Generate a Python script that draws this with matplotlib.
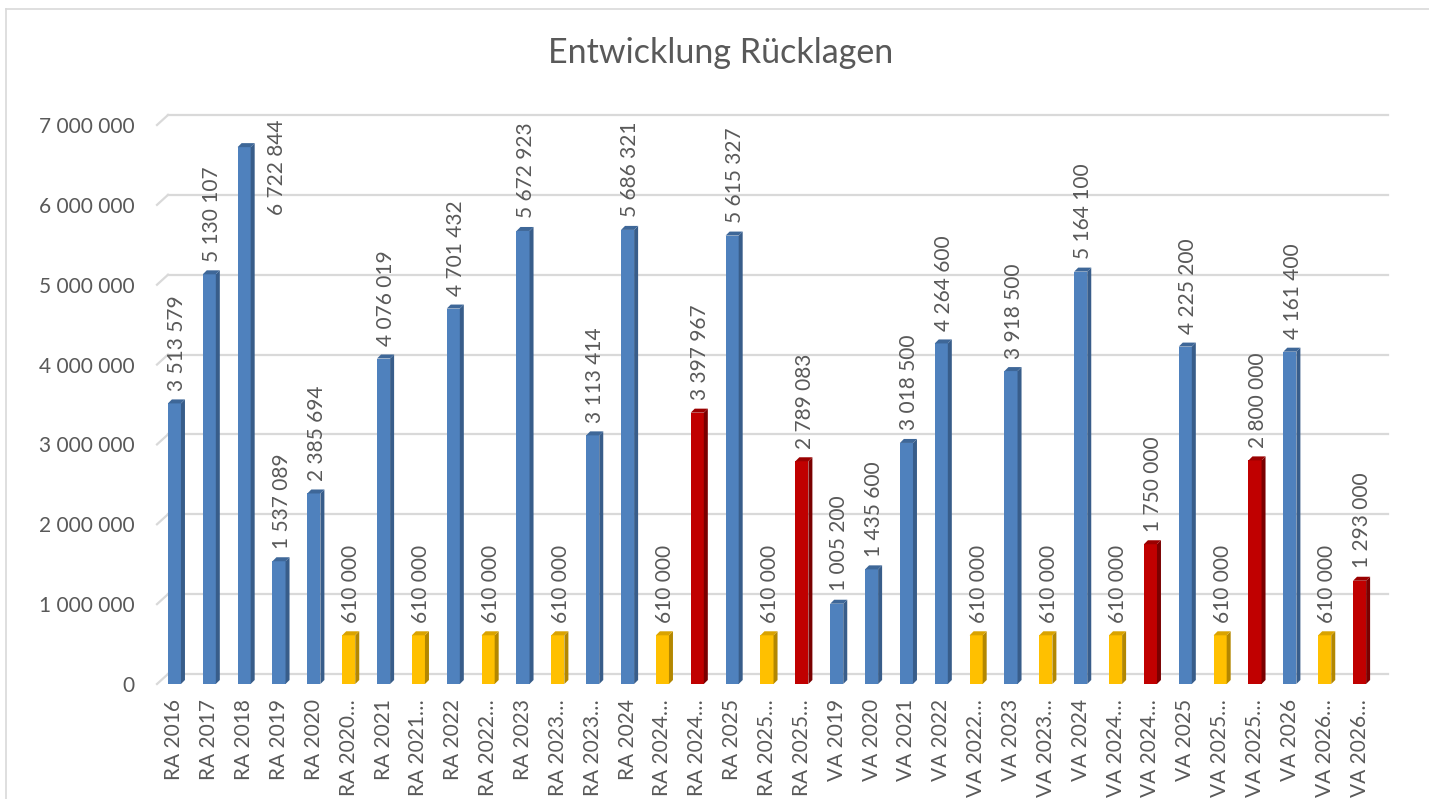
import matplotlib
matplotlib.use("Agg")
import matplotlib.pyplot as plt
from matplotlib.lines import Line2D
from matplotlib.patches import Polygon
from matplotlib.transforms import IdentityTransform
import numpy as np

categories = [
    "RA 2016", "RA 2017", "RA 2018", "RA 2019", "RA 2020", "RA 2020…",
    "RA 2021", "RA 2021…", "RA 2022", "RA 2022…", "RA 2023", "RA 2023…",
    "RA 2023…", "RA 2024", "RA 2024…", "RA 2024…", "RA 2025", "RA 2025…",
    "RA 2025…", "VA 2019", "VA 2020", "VA 2021", "VA 2022", "VA 2022…",
    "VA 2023", "VA 2023…", "VA 2024", "VA 2024…", "VA 2024…", "VA 2025",
    "VA 2025…", "VA 2025…", "VA 2026", "VA 2026…", "VA 2026…",
]
values = [
    3513579, 5130107, 6722844, 1537089, 2385694, 610000,
    4076019, 610000, 4701432, 610000, 5672923, 610000,
    3113414, 5686321, 610000, 3397967, 5615327, 610000,
    2789083, 1005200, 1435600, 3018500, 4264600, 610000,
    3918500, 610000, 5164100, 610000, 1750000, 4225200,
    610000, 2800000, 4161400, 610000, 1293000,
]
kinds = [
    "b", "b", "b", "b", "b", "y",
    "b", "y", "b", "y", "b", "y",
    "b", "b", "y", "r", "b", "y",
    "r", "b", "b", "b", "b", "y",
    "b", "y", "b", "y", "r", "b",
    "y", "r", "b", "y", "r",
]
y_ticks = [0, 1000000, 2000000, 3000000, 4000000, 5000000, 6000000, 7000000]
title = "Entwicklung Rücklagen"

front_col = {"b": "#4F81BD", "y": "#FFC000", "r": "#C00000"}
side_col = {"b": "#385D8A", "y": "#B38700", "r": "#7A0000"}
top_col = {"b": "#3E6798", "y": "#D9A300", "r": "#9A0000"}

TXT = "#595959"
GRID = "#D9D9D9"
plt.rcParams["font.family"] = ["Lato", "DejaVu Sans"]

W, H = 1429, 799
fig = plt.figure(figsize=(W / 100, H / 100), dpi=100)
fig.patch.set_facecolor("white")

ax_left, ax_right, ax_bot, ax_top = 157, 1377, 684, 125
ax = fig.add_axes([ax_left / W, (H - ax_bot) / H, (ax_right - ax_left) / W, (ax_bot - ax_top) / H])
ax.set_facecolor("none")
for s in ax.spines.values():
    s.set_visible(False)

n = len(categories)
x = np.arange(n)
ax.set_xlim(-0.5, n - 0.5)
ax.set_ylim(0, 7000000)
bw = 0.375
ax.bar(x, values, width=bw, color=[front_col[k] for k in kinds], zorder=3, linewidth=0)

ax.set_yticks(y_ticks)
ax.set_yticklabels([f"{v:,}".replace(",", " ") for v in y_ticks])
ax.set_xticks(x)
ax.set_xticklabels(categories, rotation=90)
ax.tick_params(axis="y", length=0, pad=16, labelsize=15, labelcolor=TXT)
ax.tick_params(axis="x", length=0, pad=11, labelsize=15, labelcolor=TXT)

fig.canvas.draw()
tr = ax.transData
ID = IdentityTransform()
DX, DY = 11, 10  # depth offset of back wall in pixels

# gridlines (back wall + slanted floor edge)
for yv in y_ticks:
    (fx0, fy), = tr.transform([(-0.5, yv)])
    (fx1, _), = tr.transform([(n - 0.5, yv)])
    ax.add_artist(Line2D([fx0 + DX, fx1 + DX], [fy + DY, fy + DY], transform=ID,
                         color=GRID, lw=1.6, zorder=0.5, clip_on=False))
    ax.add_artist(Line2D([fx0, fx0 + DX], [fy, fy + DY], transform=ID,
                         color=GRID, lw=1.6, zorder=0.5, clip_on=False))

# 3D side and top faces
d = 4
for xi, v, k in zip(x, values, kinds):
    (xl, y0), = tr.transform([(xi - bw / 2, 0)])
    (xr, yt), = tr.transform([(xi + bw / 2, v)])
    side = Polygon([(xr, y0), (xr, yt), (xr + d, yt + d), (xr + d, y0 + d)],
                   closed=True, transform=ID, facecolor=side_col[k], edgecolor="none",
                   zorder=3, clip_on=False)
    top = Polygon([(xl, yt), (xr, yt), (xr + d, yt + d), (xl + d, yt + d)],
                  closed=True, transform=ID, facecolor=top_col[k], edgecolor="none",
                  zorder=3, clip_on=False)
    ax.add_artist(side)
    ax.add_artist(top)

# data labels
anns = []
for xi, v in zip(x, values):
    a = ax.annotate(f"{v:,}".replace(",", " "), (xi, v), xytext=(2, 9), textcoords="offset points",
                    rotation=90, ha="center", va="bottom", fontsize=15, color=TXT, zorder=4,
                    annotation_clip=False)
    anns.append((a, xi))
fig.canvas.draw()
r = fig.canvas.get_renderer()
top_px = ax.get_window_extent().y1
for a, xi in anns:
    bb = a.get_window_extent(r)
    if bb.y1 > top_px + 20:
        a.xy = (xi + 0.95, 7000000)
        a.set_va("top")
        a.xyann = (0, 4)

# title
fig.text(721 / W, 1 - 53 / H, title, ha="center", va="center", fontsize=24.5, color=TXT)

# chart border (top and left visible)
fig.add_artist(Line2D([6, W], [H - 9, H - 9], transform=ID, color=GRID, lw=1.2))
fig.add_artist(Line2D([6, 6], [0, H - 9], transform=ID, color=GRID, lw=1.2))

fig.savefig("out.png", dpi=100, facecolor="white")
